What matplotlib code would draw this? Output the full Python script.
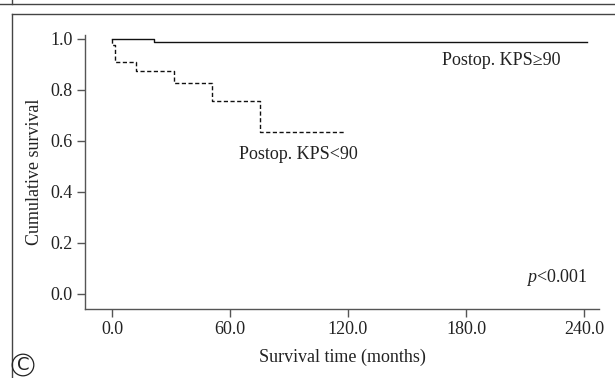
import matplotlib.pyplot as plt
from matplotlib.lines import Line2D

plt.rcParams['font.family'] = ['Liberation Serif', 'DejaVu Serif']
plt.rcParams['mathtext.fontset'] = 'custom'
plt.rcParams['mathtext.it'] = 'Liberation Serif:italic'
plt.rcParams['mathtext.rm'] = 'Liberation Serif'

# survival curves (months, cumulative survival)
t_hi = [0, 21.5, 241.5]
s_hi = [1.0, 0.986, 0.986]
t_lo = [0, 0, 1.5, 12, 31.5, 51, 75.5, 118]
s_lo = [1.0, 0.975, 0.909, 0.873, 0.825, 0.755, 0.635, 0.635]

xticks = [0, 60, 120, 180, 240]
yticks = [0.0, 0.2, 0.4, 0.6, 0.8, 1.0]

fig = plt.figure(figsize=(6.15, 3.78), dpi=100)
ax = fig.add_axes([85/615, 1-309/378, (599-85)/615, (309-35)/378])

ax.step(t_hi, s_hi, where='post', color='#111111', lw=1.0)
ax.step(t_lo, s_lo, where='post', color='#111111', lw=1.0, linestyle=(0, (3, 1.8)))

ax.set_xlim(-13.7, 247.6)
ax.set_ylim(-0.059, 1.014)
ax.set_xticks(xticks)
ax.set_xticklabels(['%.1f' % v for v in xticks])
ax.set_yticks(yticks)
ax.set_yticklabels(['%.1f' % v for v in yticks])

for s in ['top', 'right']:
    ax.spines[s].set_visible(False)
for s in ['left', 'bottom']:
    ax.spines[s].set_color('#555555')
    ax.spines[s].set_linewidth(1.0)
ax.tick_params(length=6, width=1.0, color='#555555', labelsize=13,
               labelcolor='#222222', pad=3)

ax.set_xlabel('Survival time (months)', fontsize=13, color='#222222', labelpad=7)
ax.set_ylabel('Cumulative survival', fontsize=13, color='#222222', labelpad=5)

ax.text(198, 0.915, 'Postop. KPS≥90', fontsize=13, color='#222222', ha='center', va='center')
ax.text(95, 0.545, 'Postop. KPS<90', fontsize=13, color='#222222', ha='center', va='center')
ax.text(242, 0.065, r'$p$<0.001', fontsize=13, color='#222222', ha='right', va='center')

# panel frames
fig.add_artist(Line2D([0, 1], [1-4/378, 1-4/378], transform=fig.transFigure, color='#444444', lw=1.0))
fig.add_artist(Line2D([12/615, 12/615], [1-4/378, 1], transform=fig.transFigure, color='#444444', lw=1.0))
fig.add_artist(Line2D([12/615, 1], [1-14/378, 1-14/378], transform=fig.transFigure, color='#444444', lw=1.0))
fig.add_artist(Line2D([12/615, 12/615], [0, 1-14/378], transform=fig.transFigure, color='#444444', lw=1.0))

fig.text(23/615, 1-365/378, 'C', fontsize=13, family='DejaVu Sans', color='#222222',
         ha='center', va='center',
         bbox=dict(boxstyle='circle,pad=0.1', fc='none', ec='#222222', lw=0.9))

fig.savefig('out.png', dpi=100)
